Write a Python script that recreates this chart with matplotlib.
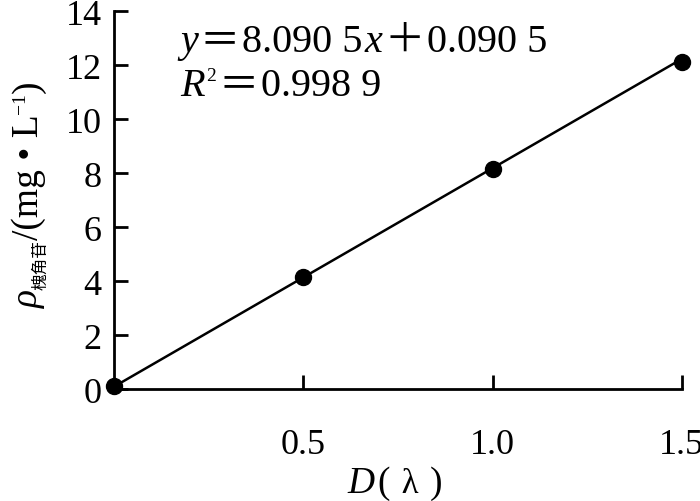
import matplotlib
matplotlib.use("Agg")
import matplotlib.pyplot as plt
import numpy as np
from matplotlib.transforms import offset_copy

plt.rcParams["font.family"] = ["Liberation Serif", "DejaVu Serif"]

# data
conc_d = [0.0, 0.5, 1.0, 1.5]
rho = [0.1, 4.15, 8.15, 12.1]
slope, intercept = 8.0905, 0.0905
x_ticks = [0.5, 1.0, 1.5]
x_ticklabels = ["0.5", "1.0", "1.5"]
y_ticks = [0, 2, 4, 6, 8, 10, 12, 14]

SERIF = dict(family=["Liberation Serif", "DejaVu Serif"])
ITAL = dict(family=["Liberation Serif"], style="italic")
CJK = dict(family=["Noto Sans CJK SC"])


def draw_run(fig, x, y, pieces, rotation=0, gap=2.0):
    """Draw text pieces one after another so fonts can be mixed."""
    r = fig.canvas.get_renderer()
    adv = 0.0
    for s, kw, size, rise in pieces:
        if rotation == 0:
            dx, dy = adv, rise
        else:
            dx, dy = -rise, adv
        tr = offset_copy(fig.transFigure, fig=fig, x=dx, y=dy, units="dots")
        t = fig.text(x, y, s, transform=tr, rotation=rotation,
                     rotation_mode="anchor", ha="left", va="baseline",
                     fontsize=size, **kw)
        bb = t.get_window_extent(r)
        adv += (bb.width if rotation == 0 else bb.height) + gap
    return adv


def main():
    fig = plt.figure(figsize=(7.0, 5.02), dpi=100)
    ax = fig.add_axes([0.163, 0.223, 0.811, 0.753])

    xs = np.array([conc_d[0], conc_d[-1]])
    ax.plot(xs, slope * xs + intercept, color="black", lw=1.8, clip_on=False)
    ax.plot(conc_d, rho, "o", color="black", ms=11.5, clip_on=False, zorder=5)

    ax.set_xlim(0, 1.5)
    ax.set_ylim(0, 14)
    ax.set_xticks(x_ticks)
    ax.set_xticklabels(x_ticklabels)
    ax.set_yticks(y_ticks)

    for s in ["top", "right"]:
        ax.spines[s].set_visible(False)
    for s in ["left", "bottom"]:
        ax.spines[s].set_linewidth(2)
    ax.tick_params(axis="both", direction="in", length=10, width=2, labelsize=26)
    ax.tick_params(axis="x", pad=28)
    ax.tick_params(axis="y", pad=9)

    fs = 29
    # regression equation
    draw_run(fig, 180 / 700, 1 - 52 / 502, [
        ("y", ITAL, fs, 0), ("＝", CJK, fs, 0), ("8.090 5", SERIF, fs, 0),
        ("x", ITAL, fs, 0), ("＋", CJK, fs, 0), ("0.090 5", SERIF, fs, 0),
    ], gap=2)
    draw_run(fig, 180 / 700, 1 - 96 / 502, [
        ("R", ITAL, fs, 0), ("2", SERIF, 14, 15), ("＝", CJK, fs, 0),
        ("0.998 9", SERIF, fs, 0),
    ], gap=2)

    # axis titles
    draw_run(fig, 347 / 700, 1 - 493 / 502, [
        ("D", ITAL, 27, 0), ("(", SERIF, 27, 0), (" λ ", SERIF, 25, 0),
        (")", SERIF, 27, 0),
    ], gap=3)
    draw_run(fig, 38 / 700, 1 - 308 / 502, [
        ("ρ", ITAL, 27, 0), ("槐角苷", CJK, 12, -7), ("/(mg • L", SERIF, 27, 0),
        ("−1", SERIF, 14, 13), (")", SERIF, 27, 0),
    ], rotation=90, gap=0)

    fig.savefig("out.png", dpi=100)


if __name__ == "__main__":
    main()
